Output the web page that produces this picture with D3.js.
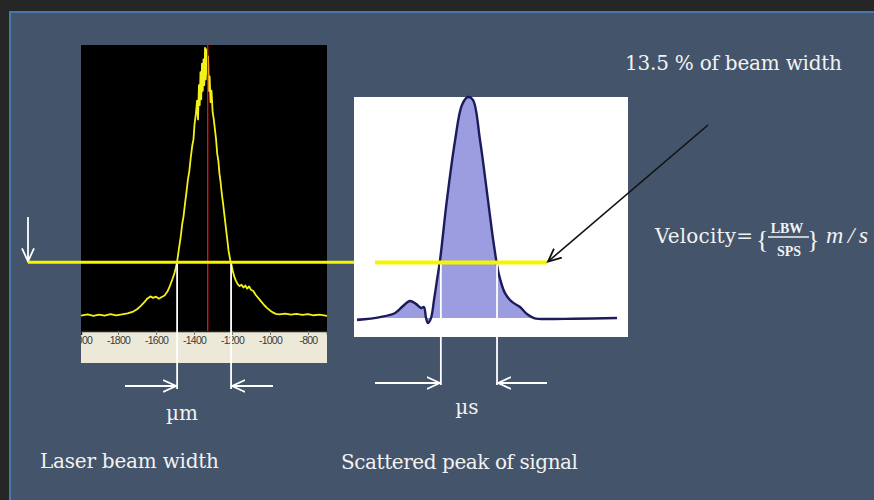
<!DOCTYPE html>
<html>
<head>
<meta charset="utf-8">
<script src="https://cdn.jsdelivr.net/npm/d3@7"></script>
<style>
body { margin: 0; background: #262626; }
svg { display: block; }
</style>
</head>
<body>
<svg id="slide"></svg>
<script>
var width = 874,
    height = 500;

// laser beam profile: position (µm) and relative intensity
var beamPos = [-1995, -1960, -1930, -1900, -1870, -1840, -1810, -1780, -1750, -1720,
    -1700, -1680, -1660, -1645, -1630, -1615, -1600, -1585, -1570, -1555,
    -1540, -1528, -1515, -1503, -1490, -1480, -1470, -1462, -1455, -1447,
    -1440, -1432, -1425, -1418, -1410, -1403, -1397, -1390, -1384, -1379,
    -1374, -1370, -1366, -1362, -1358, -1354, -1350, -1346, -1342, -1338,
    -1334, -1330, -1326, -1322, -1318, -1313, -1308, -1302, -1296, -1290,
    -1284, -1278, -1272, -1266, -1260, -1254, -1247, -1240, -1232, -1225,
    -1218, -1210, -1204, -1196, -1188, -1180, -1170, -1160, -1150, -1140,
    -1130, -1120, -1110, -1100, -1088, -1075, -1060, -1045, -1030, -1015,
    -1000, -985, -970, -950, -920, -890, -860, -830, -800, -770, -740, -700];
var beamVal = [5.4, 5.8, 5.3, 5.7, 5.4, 5.9, 5.5, 5.8, 6.2, 6.8,
    7.6, 8.8, 10.2, 11.4, 12.1, 11.6, 12.0, 11.3, 11.9, 12.4,
    13.8, 15.6, 17.9, 20.2, 23.8, 28.5, 33.0, 37.5, 40.2, 44.8,
    48.5, 53.0, 55.8, 60.2, 64.5, 67.0, 72.5, 76.0, 80.5, 74.0,
    86.0, 79.0, 90.5, 81.0, 93.5, 84.0, 95.0, 86.0, 99.0, 88.0,
    98.5, 90.0, 96.0, 84.0, 89.0, 80.0, 84.0, 76.5, 74.0, 70.5,
    67.0, 62.0, 59.5, 55.0, 52.0, 48.0, 44.5, 40.5, 36.0, 32.0,
    28.0, 25.0, 23.5, 21.0, 19.0, 17.6, 16.4, 15.7, 16.2, 15.2,
    15.9, 14.8, 15.6, 14.4, 14.0, 12.6, 11.4, 10.2, 9.0, 8.0,
    7.2, 6.5, 6.0, 5.8, 6.1, 5.7, 6.0, 5.6, 5.9, 5.5, 5.7, 5.3];
var beamTicks = [-2000, -1800, -1600, -1400, -1200, -1000, -800];
var beamCentre = -1328;
var beamLevel = 24;
var beamEdges = [-1489, -1205];

// scattered signal: time (arbitrary) and amplitude
var sigTime = [1.1, 9.5, 15, 17.9, 20.4, 22.6, 24.5, 25.5, 26.3, 27, 28.1, 29.2, 30.3,
    31.4, 33.9, 36.9, 39.4, 41.6, 43.4, 46, 48.9, 51.1, 52.9, 55.1, 57.7, 60.6,
    63.1, 65.7, 71.5, 80, 96];
var sigVal = [7.1, 8.3, 10, 12.9, 15, 13.8, 12.1, 12.5, 7.9, 5.8, 7.9, 15.4, 23.8,
    32, 57, 82, 96.7, 100, 98.8, 82, 57, 38, 26, 18.3, 14.6, 12.5,
    9.6, 7.9, 7.5, 7.6, 7.9];
var sigBase = 7.9;
var sigLevel = 31;
var sigEdges = [31.7, 52.2];

var svg = d3.select('svg#slide')
    .attr('width', width)
    .attr('height', height);

var serif = 'DejaVu Serif, Liberation Serif, serif';
var mathSerif = 'Liberation Serif, DejaVu Serif, serif';

// slide background and its frame
svg.append('rect').attr('width', width).attr('height', height).attr('fill', '#262626');
svg.append('rect').attr('x', 9).attr('y', 11).attr('width', width - 9).attr('height', height - 11).attr('fill', '#4a76ad');
svg.append('rect').attr('x', 11).attr('y', 13).attr('width', width - 11).attr('height', height - 13).attr('fill', '#44546a');

function arrowMarker(id, colour) {
    svg.append('defs').append('marker')
        .attr('id', id)
        .attr('viewBox', '0 -8 16 16')
        .attr('refX', 13)
        .attr('refY', 0)
        .attr('markerWidth', 16)
        .attr('markerHeight', 16)
        .attr('markerUnits', 'userSpaceOnUse')
        .attr('orient', 'auto')
        .append('path')
        .attr('d', 'M0,-6L13,0L0,6')
        .attr('fill', 'none')
        .attr('stroke', colour)
        .attr('stroke-width', 1.8);
}
arrowMarker('headWhite', '#ffffff');
arrowMarker('headBlack', '#111111');

// ---- left panel: beam profile ----
var xBeam = d3.scaleLinear().domain([-1995, -700]).range([81, 327]);
var yBeam = d3.scaleLinear().domain([0, 100]).range([331, 45]);

svg.append('rect').attr('x', 81).attr('y', 45).attr('width', 246).attr('height', 286).attr('fill', '#000000');
svg.append('rect').attr('x', 81).attr('y', 331).attr('width', 246).attr('height', 32).attr('fill', '#ece9d8');

// clip in the axis group's own (translated) coordinates
svg.append('defs').append('clipPath').attr('id', 'stripClip')
    .append('rect').attr('x', 81).attr('y', -2).attr('width', 246).attr('height', 34);

var axis = svg.append('g')
    .attr('transform', 'translate(0,331)')
    .attr('clip-path', 'url(#stripClip)')
    .call(d3.axisBottom(xBeam).tickValues(beamTicks).tickSize(4).tickPadding(2)
        .tickFormat(function(d) { return String(d); }));
axis.select('.domain').attr('stroke', '#222222').attr('stroke-width', 1.5);
axis.selectAll('.tick line').attr('stroke', '#777777');
axis.selectAll('.tick text')
    .attr('fill', '#3a3a3a')
    .style('font-family', 'Liberation Sans, Arial, sans-serif')
    .style('font-size', '10.5px')
    .style('letter-spacing', '-0.8px');

var beamLine = d3.line()
    .x(function(d, i) { return xBeam(beamPos[i]); })
    .y(function(d) { return yBeam(d); });

svg.append('path')
    .datum(beamVal)
    .attr('d', beamLine)
    .attr('fill', 'none')
    .attr('stroke', '#f2f21a')
    .attr('stroke-width', 1.8)
    .attr('stroke-linejoin', 'round');

svg.append('line')
    .attr('x1', xBeam(beamCentre)).attr('x2', xBeam(beamCentre))
    .attr('y1', 43).attr('y2', 331)
    .attr('stroke', '#e01010')
    .attr('stroke-width', 1.4);

// ---- right panel: scattered signal ----
var xSig = d3.scaleLinear().domain([0, 100]).range([354, 628]);
var ySig = d3.scaleLinear().domain([0, 100]).range([337, 97]);

svg.append('rect').attr('x', 354).attr('y', 97).attr('width', 274).attr('height', 240).attr('fill', '#ffffff');

var sigArea = d3.area()
    .x(function(d, i) { return xSig(sigTime[i]); })
    .y0(ySig(sigBase))
    .y1(function(d) { return ySig(d); })
    .curve(d3.curveCatmullRom);
var sigLine = d3.line()
    .x(function(d, i) { return xSig(sigTime[i]); })
    .y(function(d) { return ySig(d); })
    .curve(d3.curveCatmullRom);

svg.append('path').datum(sigVal).attr('d', sigArea).attr('fill', '#9c9ce0');
svg.append('path').datum(sigVal).attr('d', sigLine)
    .attr('fill', 'none')
    .attr('stroke', '#1c1c5c')
    .attr('stroke-width', 2.4);

// ---- width markers ----
var yLevel = yBeam(beamLevel);

beamEdges.forEach(function(d) {
    svg.append('line')
        .attr('x1', xBeam(d)).attr('x2', xBeam(d))
        .attr('y1', yLevel).attr('y2', 389)
        .attr('stroke', '#ffffff').attr('stroke-width', 1.8);
});
sigEdges.forEach(function(d) {
    svg.append('line')
        .attr('x1', xSig(d)).attr('x2', xSig(d))
        .attr('y1', ySig(sigLevel)).attr('y2', 385)
        .attr('stroke', '#ffffff').attr('stroke-width', 1.8);
});

function whiteArrow(x1, y1, x2, y2) {
    svg.append('line')
        .attr('x1', x1).attr('y1', y1).attr('x2', x2).attr('y2', y2)
        .attr('stroke', '#ffffff').attr('stroke-width', 1.8)
        .attr('marker-end', 'url(#headWhite)');
}
whiteArrow(125, 386, xBeam(beamEdges[0]) - 1, 386);
whiteArrow(273, 386, xBeam(beamEdges[1]) + 1, 386);
whiteArrow(375, 383, xSig(sigEdges[0]) - 1, 383);
whiteArrow(547, 383, xSig(sigEdges[1]) + 1, 383);
whiteArrow(28, 217, 28, yLevel - 1);

// threshold lines
svg.append('line')
    .attr('x1', 28).attr('x2', 354).attr('y1', yLevel).attr('y2', yLevel)
    .attr('stroke', '#f5f500').attr('stroke-width', 3);
svg.append('line')
    .attr('x1', 375).attr('x2', 547).attr('y1', ySig(sigLevel)).attr('y2', ySig(sigLevel))
    .attr('stroke', '#f5f500').attr('stroke-width', 4);

svg.append('line')
    .attr('x1', 708).attr('y1', 125).attr('x2', 548).attr('y2', ySig(sigLevel) - 1)
    .attr('stroke', '#111111').attr('stroke-width', 1.6)
    .attr('marker-end', 'url(#headBlack)');

// ---- texts ----
function label(txt, x, y, size, len, anchor, family) {
    var t = svg.append('text')
        .attr('x', x).attr('y', y)
        .attr('fill', '#f2f2f2')
        .attr('text-anchor', anchor || 'start')
        .style('font-family', family || serif)
        .style('font-size', size + 'px')
        .text(txt);
    if (len) t.attr('textLength', len);
    return t;
}

label('13.5 % of beam width', 625, 70, 20, 217);
label('Velocity=', 655, 243, 20, 98);
label('{', 756, 248, 26, 0, 'start', mathSerif);
label('LBW', 787, 233, 14, 0, 'middle', mathSerif).style('font-weight', 'bold');
svg.append('line').attr('x1', 768).attr('x2', 809).attr('y1', 237).attr('y2', 237)
    .attr('stroke', '#f2f2f2').attr('stroke-width', 1.3);
label('SPS', 789, 256, 14, 0, 'middle', mathSerif).style('font-weight', 'bold');
label('}', 807, 248, 26, 0, 'start', mathSerif);
label('m/s', 826, 243, 24, 42, 'start', mathSerif).style('font-style', 'italic');
label('µm', 182, 420, 20, 0, 'middle');
label('µs', 467, 414, 20, 0, 'middle');
label('Laser beam width', 40, 468, 20, 179);
label('Scattered peak of signal', 341, 469, 20, 237);
</script>
</body>
</html>
